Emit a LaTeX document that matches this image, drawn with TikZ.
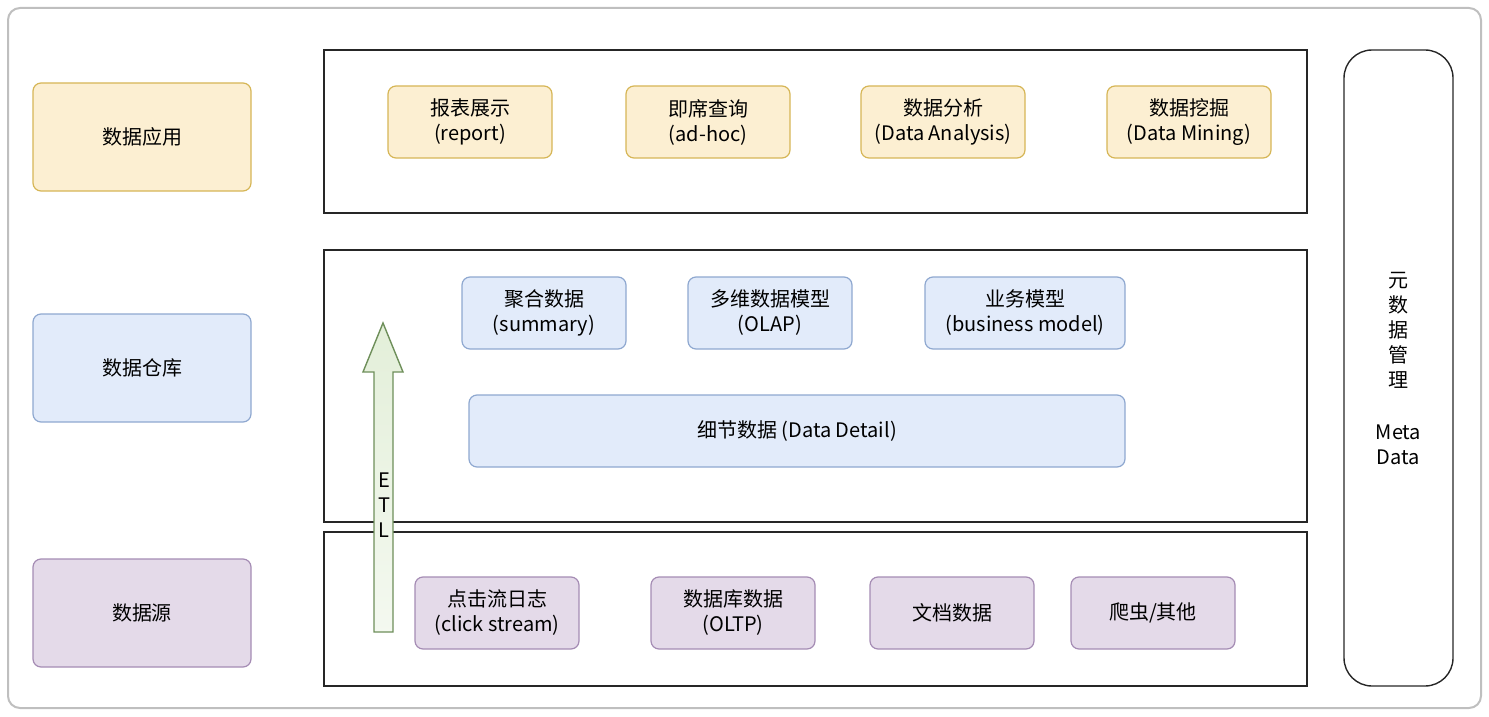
\documentclass[tikz,border=0pt]{standalone}
\usepackage{fontspec}
\setmainfont{Noto Sans CJK SC}
\begin{document}
\begin{tikzpicture}[x=0.5pt,y=-0.5pt,
 every node/.style={font=\fontsize{10}{12.5}\selectfont,align=center,inner sep=0},
 b/.style={draw,rounded corners=4pt,line width=0.6pt},
 app/.style={b,fill=appF,draw=appD},
 dw/.style={b,fill=dwF,draw=dwD},
 src/.style={b,fill=srcF,draw=srcD},
 frame/.style={draw=black!85,line width=0.7pt}]
\definecolor{appF}{HTML}{FCEFD2}\definecolor{appD}{HTML}{D6B656}
\definecolor{dwF}{HTML}{E2EBFA}\definecolor{dwD}{HTML}{8FA8D0}
\definecolor{srcF}{HTML}{E4DAE9}\definecolor{srcD}{HTML}{A58CB4}
\definecolor{etlF}{HTML}{E3EFD9}\definecolor{etlD}{HTML}{6E8F5A}
\useasboundingbox (0,0) rectangle (1489,717);
\draw[black!25,rounded corners=6pt,line width=1pt] (8,8) rectangle (1481,708);
% left
\node[app,minimum width=109pt,minimum height=54pt] (la) at (142,137) {数据应用};
\node[dw,minimum width=109pt,minimum height=54pt] (lw) at (142,368) {数据仓库};
\node[src,minimum width=109pt,minimum height=54pt] (ls) at (142,613) {数据源};
% frames
\node[frame,minimum width=491.5pt,minimum height=81.5pt] (fa) at (815.5,131.5) {};
\node[frame,minimum width=491.5pt,minimum height=136pt] (fw) at (815.5,386) {};
\node[frame,minimum width=491.5pt,minimum height=77pt] (fs) at (815.5,609) {};
\node[draw=black!85,line width=0.7pt,rounded corners=14pt,minimum width=54.5pt,minimum height=318pt] (meta) at (1398.5,368) {};
\node at (1398.5,330) {元\\数\\据\\管\\理};
\node at (1398.5,445) {Meta\\Data};
% app
\node[app,minimum width=82pt,minimum height=36pt] (a1) at (470,122) {报表展示\\(report)};
\node[app,minimum width=82pt,minimum height=36pt] (a2) at (708,122) {即席查询\\(ad-hoc)};
\node[app,minimum width=82pt,minimum height=36pt] (a3) at (943,122) {数据分析\\(Data Analysis)};
\node[app,minimum width=82pt,minimum height=36pt] (a4) at (1189,122) {数据挖掘\\(Data Mining)};
% dw
\node[dw,minimum width=82pt,minimum height=36pt] (w1) at (544,313) {聚合数据\\(summary)};
\node[dw,minimum width=82pt,minimum height=36pt] (w2) at (770,313) {多维数据模型\\(OLAP)};
\node[dw,minimum width=100pt,minimum height=36pt] (w3) at (1025,313) {业务模型\\(business model)};
\node[dw,minimum width=328pt,minimum height=36pt] (w4) at (797,431) {细节数据 (Data Detail)};
% src
\node[src,minimum width=82pt,minimum height=36pt] (s1) at (497,613) {点击流日志\\(click stream)};
\node[src,minimum width=82pt,minimum height=36pt] (s2) at (733,613) {数据库数据\\(OLTP)};
\node[src,minimum width=82pt,minimum height=36pt] (s3) at (952,613) {文档数据};
\node[src,minimum width=82pt,minimum height=36pt] (s4) at (1153,613) {爬虫/其他};
% ETL arrow
\draw[etlD,line width=0.7pt,top color=etlF,bottom color=white!60!etlF]
 (374,632) -- (374,372) -- (363,372) -- (383,323) -- (403,372) -- (393,372) -- (393,632) -- cycle;
\node (etl) at (384,505) {E\\T\\L};
\end{tikzpicture}
\end{document}
